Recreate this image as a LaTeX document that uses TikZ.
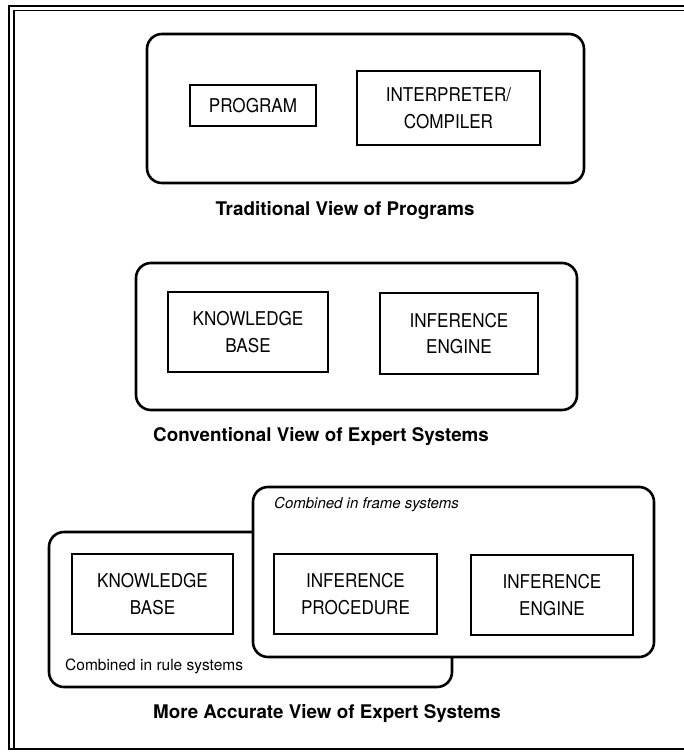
\documentclass[tikz,border=0pt]{standalone}
\usepackage{fontspec}
\setmainfont{TeX Gyre Heros}
\newfontfamily\labelfont[FakeStretch=0.9]{TeX Gyre Heros}
\begin{document}
\begin{tikzpicture}[x=1pt,y=-1pt,
  container/.style={draw,line width=2.6pt,rounded corners=15pt,fill=white,inner sep=0pt},
  block/.style={draw,line width=2pt,fill=white,align=center,inner sep=0pt,
    font=\labelfont\fontsize{19}{26.5}\selectfont},
  caption/.style={inner sep=0pt,font=\fontsize{18.8}{22}\selectfont\bfseries},
  remark/.style={inner sep=0pt,anchor=west}]
\useasboundingbox (0,0) rectangle (684,752);

% page frame: double rule at top and left, single rule at the bottom
\draw[line width=2.4pt] (8,6) -- (684,6);
\draw[line width=1.4pt] (13,10.5) -- (684,10.5);
\draw[line width=2pt] (8.5,5) -- (8.5,750);
\draw[line width=2pt] (13.5,10) -- (13.5,749);
\draw[line width=2.4pt] (7.5,749) -- (684,749);

% traditional view
\node[container,minimum width=437pt,minimum height=149pt] (trad) at (365.5,108.5) {};
\node[block,minimum width=126pt,minimum height=41pt] (prog) at (253,105.5) {PROGRAM};
\node[block,minimum width=183pt,minimum height=74pt] (interp) at (448.5,108) {INTERPRETER/\\COMPILER};
\node[caption] (cap1) at (345,211) {Traditional View of Programs};

% conventional view
\node[container,minimum width=441pt,minimum height=147pt] (conv) at (356.5,336.5) {};
\node[block,minimum width=160pt,minimum height=80pt] (kb1) at (248,332) {KNOWLEDGE\\BASE};
\node[block,minimum width=158pt,minimum height=81pt] (ie1) at (459,333.5) {INFERENCE\\ENGINE};
\node[caption,anchor=west] (cap2) at (153,437) {Conventional View of Expert Systems};

% more accurate view: rule systems box behind, frame systems box in front
\node[container,minimum width=403pt,minimum height=155pt] (rules) at (250.5,609.5) {};
\node[container,minimum width=401pt,minimum height=170pt] (frames) at (453.5,572) {};
\node[block,minimum width=161pt,minimum height=80pt] (kb2) at (152.5,594) {KNOWLEDGE\\BASE};
\node[block,minimum width=163pt,minimum height=80pt] (proc) at (355.5,594) {INFERENCE\\PROCEDURE};
\node[block,minimum width=162pt,minimum height=80pt] (ie2) at (552,595) {INFERENCE\\ENGINE};
\node[remark,font=\fontsize{15}{17}\selectfont\itshape] (framenote) at (274,505) {Combined in frame systems};
\node[remark,font=\fontsize{15.5}{17}\selectfont] (rulenote) at (65,666) {Combined in rule systems};
\node[caption,anchor=west] (cap3) at (153,714) {More Accurate View of Expert Systems};
\end{tikzpicture}
\end{document}
